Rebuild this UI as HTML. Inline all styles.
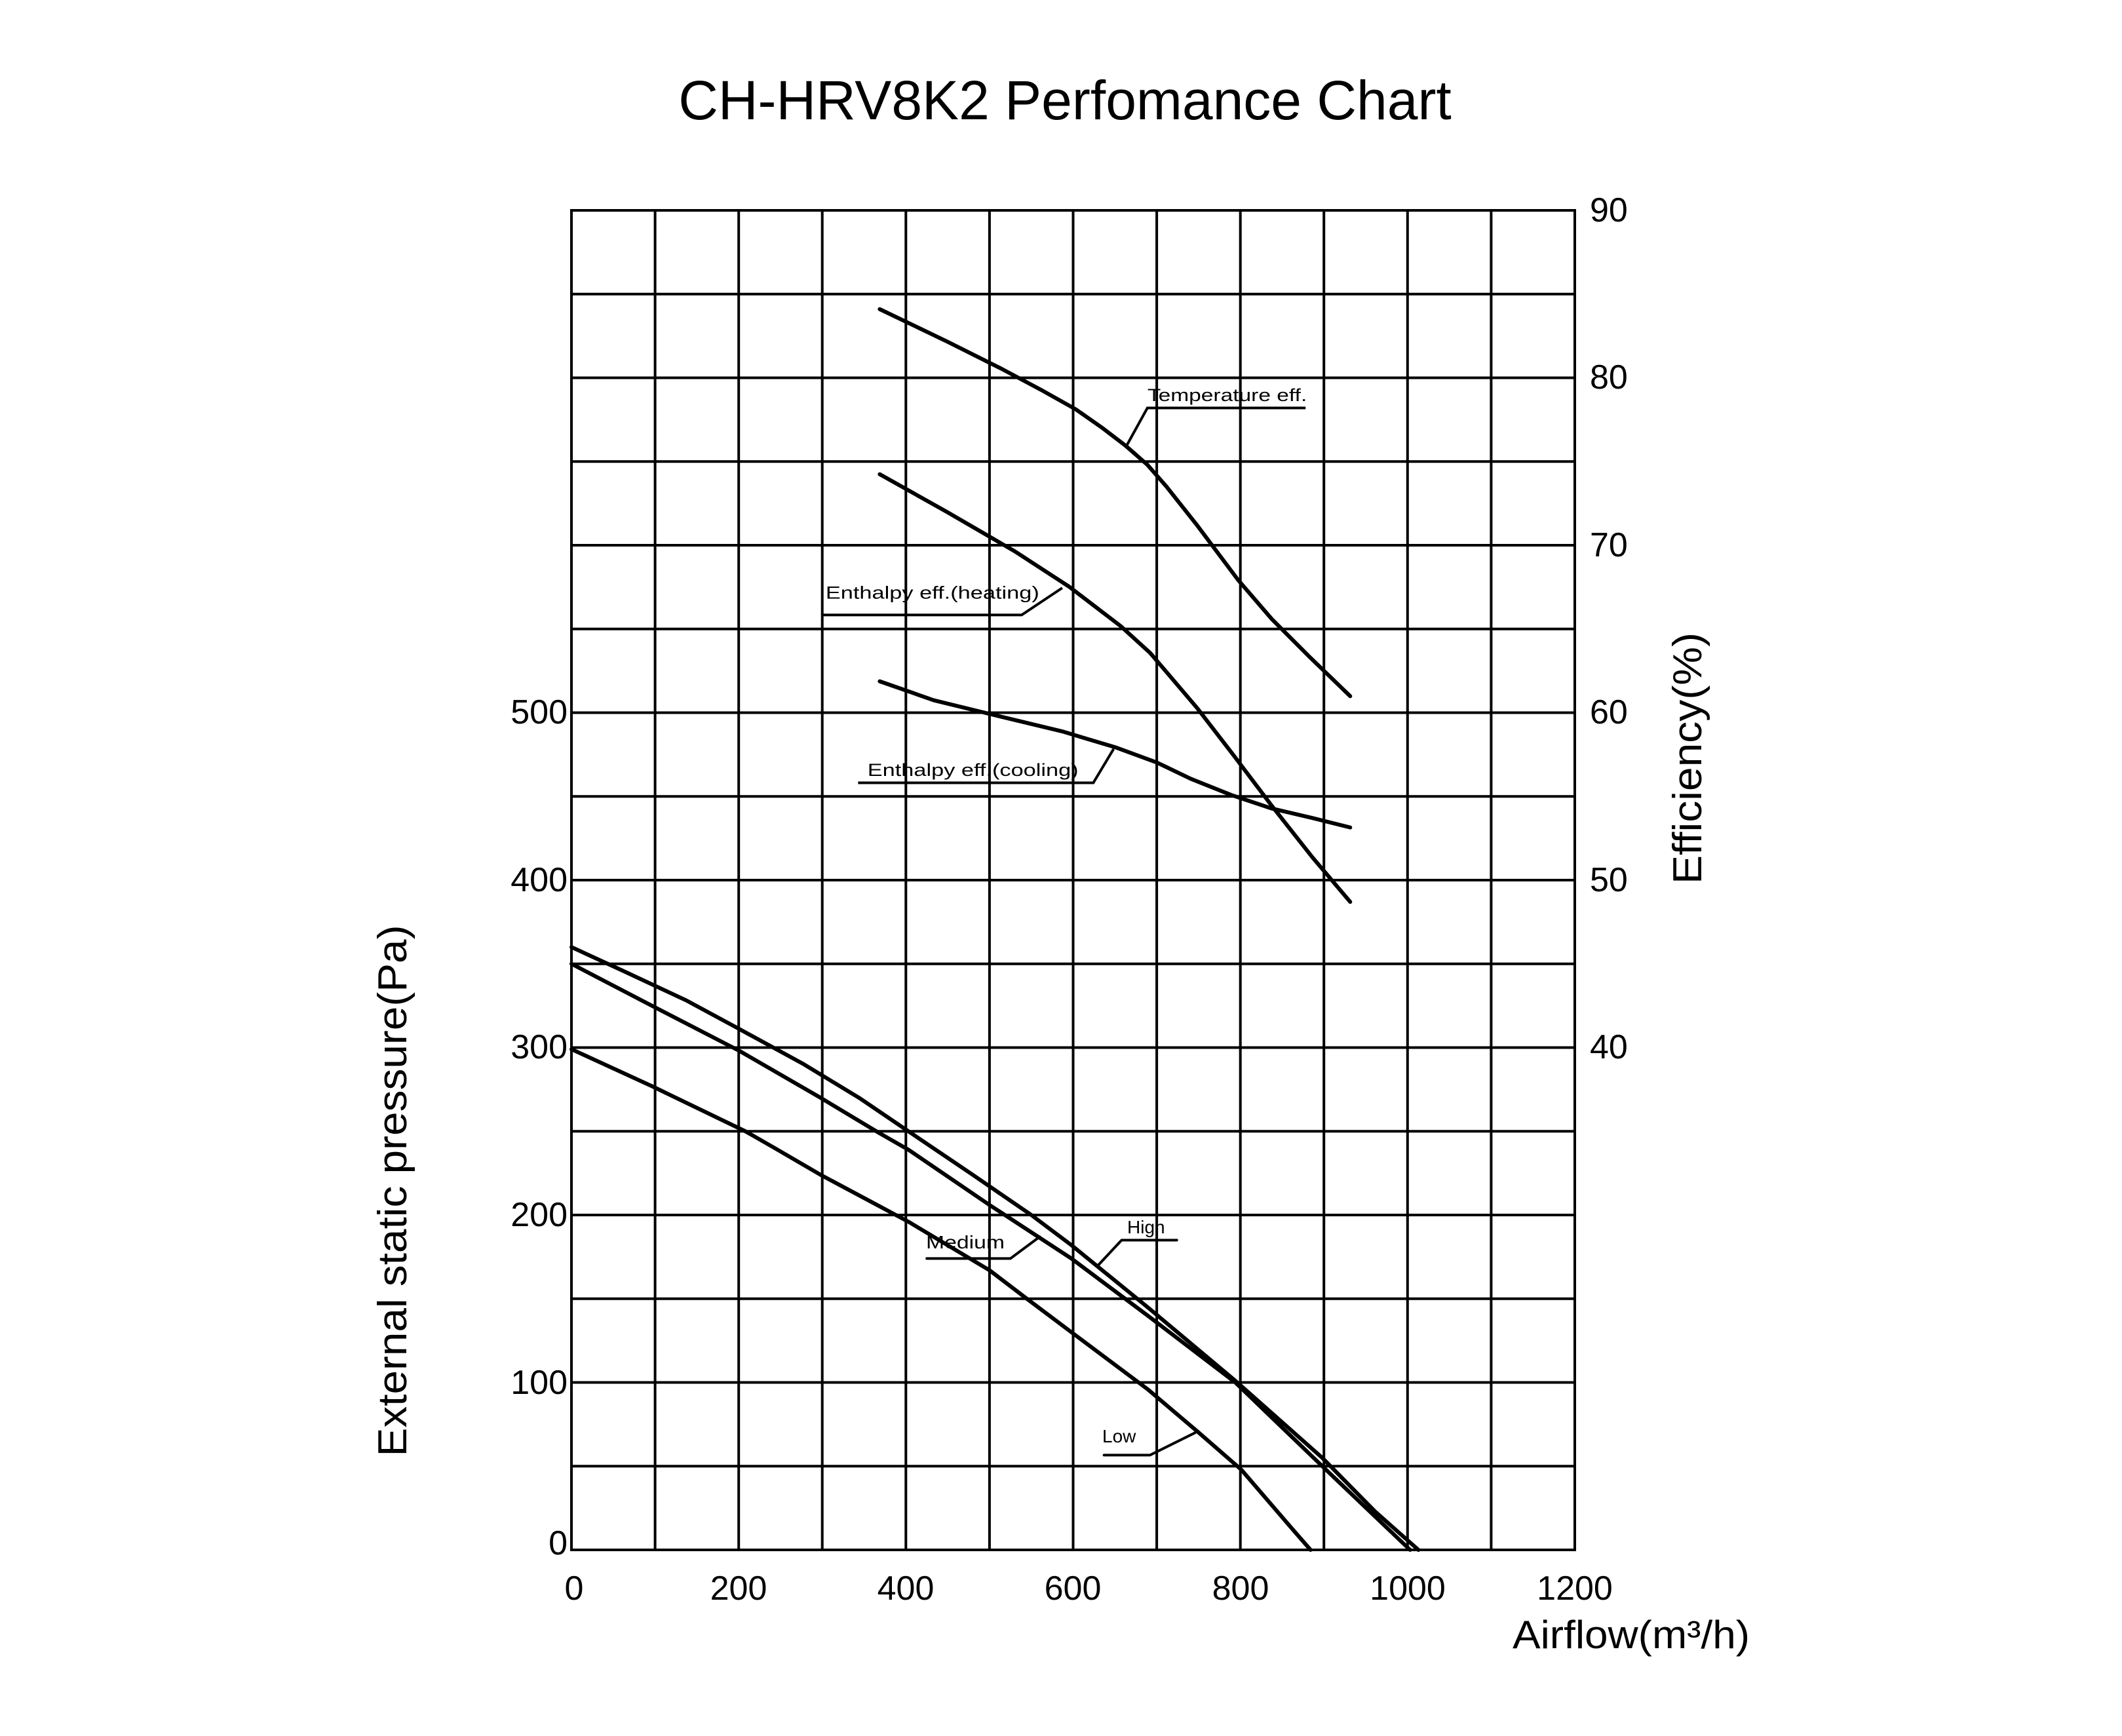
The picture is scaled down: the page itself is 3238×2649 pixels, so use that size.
<!DOCTYPE html>
<html><head><meta charset="utf-8"><style>html,body{margin:0;padding:0;background:#fff}svg{display:block}</style></head>
<body>
<svg width="3238" height="2649" viewBox="0 0 3238 2649" xmlns="http://www.w3.org/2000/svg" font-family="Liberation Sans, sans-serif">
<rect width="3238" height="2649" fill="#fff"/>
<text x="1625" y="182" font-size="84" text-anchor="middle">CH-HRV8K2  Perfomance Chart</text>
<g stroke="#000" stroke-width="4" fill="none">
<rect x="872" y="321" width="1531" height="2044"/>
<path d="M999.6 321V2365M1127.2 321V2365M1254.7 321V2365M1382.3 321V2365M1509.9 321V2365M1637.5 321V2365M1765.1 321V2365M1892.7 321V2365M2020.2 321V2365M2147.8 321V2365M2275.4 321V2365"/>
<path d="M872 448.75H2403M872 576.5H2403M872 704.25H2403M872 832H2403M872 959.75H2403M872 1087.5H2403M872 1215.25H2403M872 1343H2403M872 1470.75H2403M872 1598.5H2403M872 1726.25H2403M872 1854H2403M872 1981.75H2403M872 2109.5H2403M872 2237.25H2403"/>
</g>
<g transform="translate(872,321) scale(2.063,2.065) translate(-422,-155)">
<g fill="none" stroke="#000" stroke-width="6" stroke-linejoin="round" stroke-linecap="round">
<polyline vector-effect="non-scaling-stroke" points="650,228 700,252 740,272 770,288 795,302 815,316 832,329 848,343 862,359 885,388 915,428 940,457 968,485 998,514"/>
<polyline vector-effect="non-scaling-stroke" points="650,350 700,378 750,407 790,433 828,462 850,482 862,496 885,523 912,558 940,595 970,633 998,666"/>
<polyline vector-effect="non-scaling-stroke" points="650,503 690,517 735,528 785,540 825,552 855,563 880,575 910,587 940,597 970,604 998,611"/>
</g>
<g fill="none" stroke="#000" stroke-width="4">
<polyline vector-effect="non-scaling-stroke" points="965,301 848,301 832,330"/>
<polyline vector-effect="non-scaling-stroke" points="608,454 755,454 785,434"/>
<polyline vector-effect="non-scaling-stroke" points="634,578 808,578 823,553"/>
</g>
<g font-size="13" fill="#000">
<text x="848" y="296" textLength="118" lengthAdjust="spacingAndGlyphs">Temperature eff.</text>
<text x="610" y="442" textLength="158" lengthAdjust="spacingAndGlyphs">Enthalpy eff.(heating)</text>
<text x="641" y="573" textLength="156" lengthAdjust="spacingAndGlyphs">Enthalpy eff.(cooling)</text>
</g>
</g>
<g transform="translate(872,2365) scale(1.2758,-2.555)" fill="none" stroke="#000" stroke-linejoin="round" stroke-linecap="round">
<polyline vector-effect="non-scaling-stroke" stroke-width="6" points="0,360 61,346 138,328 201,311 278,290 344,270 403,250 480,224 550,200 598,182 689,145 794,101 898,55 961,23 1013,0"/>
<polyline vector-effect="non-scaling-stroke" stroke-width="6" points="0,350 100,324 201,298 298,270 368,249 403,239 500,206 598,174 689,140 794,100 898,50 1003,0"/>
<polyline vector-effect="non-scaling-stroke" stroke-width="6" points="0,299 96,277 208,250 243,240 298,224 358,208 403,196 500,167 542,151 598,130 689,96 748,71 801,48 863,12 884,0"/>
<polyline vector-effect="non-scaling-stroke" stroke-width="4" points="425,174 525,174 560,187"/>
<polyline vector-effect="non-scaling-stroke" stroke-width="4" points="724,185 658,185 630,170"/>
<polyline vector-effect="non-scaling-stroke" stroke-width="4" points="637,56.6 692,56.6 746,70"/>
</g>
<g font-size="28" fill="#000">
<text x="1413" y="1905" textLength="120" lengthAdjust="spacingAndGlyphs">Medium</text>
<text x="1720" y="1882">High</text>
<text x="1682" y="2201">Low</text>
</g>
<g font-size="52" fill="#000">
<g text-anchor="end" dominant-baseline="central">
<text x="866" y="1087">500</text><text x="866" y="1343">400</text><text x="866" y="1598">300</text>
<text x="866" y="1854">200</text><text x="866" y="2110">100</text><text x="866" y="2355">0</text>
</g>
<g dominant-baseline="central">
<text x="2426" y="321">90</text><text x="2426" y="576">80</text><text x="2426" y="832">70</text>
<text x="2426" y="1087">60</text><text x="2426" y="1343">50</text><text x="2426" y="1598">40</text>
</g>
<g text-anchor="middle">
<text x="876" y="2441">0</text><text x="1127" y="2441">200</text><text x="1382" y="2441">400</text>
<text x="1637" y="2441">600</text><text x="1893" y="2441">800</text><text x="2148" y="2441">1000</text><text x="2403" y="2441">1200</text>
</g>
</g>
<text font-size="62" text-anchor="middle" transform="translate(620,1817) rotate(-90)" textLength="811" lengthAdjust="spacingAndGlyphs">External static pressure(Pa)</text>
<text font-size="62" text-anchor="middle" transform="translate(2596,1157) rotate(-90)" textLength="384" lengthAdjust="spacingAndGlyphs">Efficiency(%)</text>
<text x="2308" y="2515" font-size="60" textLength="362" lengthAdjust="spacingAndGlyphs">Airflow(m³/h)</text>
</svg>
</body></html>
